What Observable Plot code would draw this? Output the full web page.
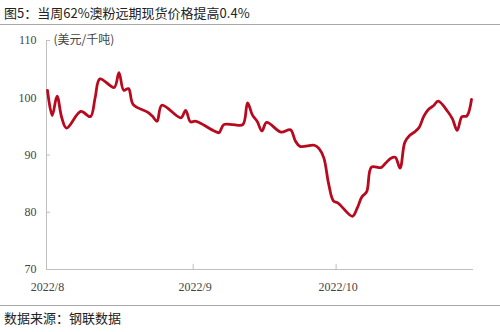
<!DOCTYPE html>
<html><head><meta charset="utf-8">
<script src="https://cdn.jsdelivr.net/npm/d3@7"></script>
<script src="https://cdn.jsdelivr.net/npm/@observablehq/plot@0.6"></script>
<style>
body{margin:0;background:#fff;width:500px;height:332px;overflow:hidden;}
#title{font-family:"Noto Sans CJK SC",sans-serif;font-size:13px;color:#222;height:25px;line-height:26px;padding-left:4px;border-bottom:1px solid #a8a8a8;box-sizing:border-box;white-space:nowrap;}
#foot{font-family:"Noto Sans CJK SC",sans-serif;font-size:13px;color:#222;border-top:1px solid #a8a8a8;padding-left:4px;line-height:24px;white-space:nowrap;}
#chart svg{display:block;}
</style></head>
<body>
<div id="title">图5：当周62%澳粉远期现货价格提高0.4%</div>
<div id="chart"></div>
<div id="foot">数据来源：钢联数据</div>
<script>
const dates = [
"2022-08-01","2022-08-02","2022-08-03","2022-08-04","2022-08-05","2022-08-08","2022-08-10","2022-08-11","2022-08-12",
"2022-08-15","2022-08-16","2022-08-17","2022-08-18","2022-08-19","2022-08-22","2022-08-23","2022-08-24","2022-08-25",
"2022-08-29","2022-08-30","2022-08-31","2022-09-01","2022-09-02","2022-09-05","2022-09-06","2022-09-07","2022-09-09",
"2022-09-11","2022-09-12","2022-09-13","2022-09-14","2022-09-15","2022-09-16","2022-09-19","2022-09-21","2022-09-22",
"2022-09-23","2022-09-26","2022-09-27","2022-09-28","2022-09-29","2022-09-30","2022-10-01","2022-10-04","2022-10-05",
"2022-10-06","2022-10-07","2022-10-08","2022-10-10","2022-10-11","2022-10-12","2022-10-13","2022-10-14","2022-10-15",
"2022-10-16","2022-10-17","2022-10-18","2022-10-19","2022-10-20","2022-10-21","2022-10-22","2022-10-24","2022-10-25",
"2022-10-26","2022-10-27","2022-10-28","2022-10-29"];
const prices = [
101.3,96.9,100.3,96.5,94.7,97.6,96.7,100.0,103.3,
101.8,104.4,101.3,101.6,98.8,97.5,96.8,95.9,98.7,
96.5,97.8,95.8,95.9,95.6,94.2,93.9,95.3,95.3,
95.3,99.1,97.0,95.9,94.2,95.7,94.0,94.4,92.5,
91.5,91.7,91.1,89.5,85.0,82.0,81.6,79.3,80.7,
82.7,83.6,87.9,87.8,88.6,89.4,89.6,87.7,92.2,
93.4,94.0,94.8,96.8,98.0,98.6,99.4,97.6,96.3,
94.3,96.7,96.8,99.7];
const yTicks = [70,80,90,100,110];
const xTickDates = ["2022-08-01","2022-09-01","2022-10-01"];
const xTickLabels = ["2022/8","2022/9","2022/10"];
const unitLabel = "(美元/千吨)";

const data = dates.map((d,i)=>({date:new Date(d+"T00:00"), value:prices[i]}));
const xTicks = xTickDates.map(d=>new Date(d+"T00:00"));
const x0 = new Date("2022-07-31T19:00");
const x1 = new Date("2022-10-29T10:00");
const xTickEnd = new Date(x0.getTime() + 0.85*864e5);
const lineColor = "#B80A1E";
const axisColor = "#bfbfbf";

const chart = Plot.plot({
  width:500, height:280,
  marginTop:15, marginBottom:36, marginLeft:46, marginRight:27,
  style:{fontFamily:"'Liberation Serif','Times New Roman',serif", fontSize:"12px", color:"#333", background:"#fff"},
  x:{type:"time", domain:[x0, x1], label:null},
  y:{domain:[70,110], label:null},
  marks:[
    Plot.ruleX([x0],{y1:70, y2:110, stroke:axisColor}),
    Plot.ruleY([70],{stroke:axisColor}),
    Plot.ruleY(yTicks,{x1:x0, x2:xTickEnd, stroke:axisColor}),
    Plot.axisY({ticks:yTicks, tickSize:0, tickPadding:10, fill:"#444"}),
    Plot.axisX({ticks:xTicks, tickFormat:(d,i)=>xTickLabels[i], tickSize:0, tickPadding:13, fill:"#444"}),
    Plot.ruleX(xTicks.slice(1),{y1:70, y2:70.9, stroke:axisColor, dx:-2}),
    Plot.line(data,{x:"date", y:"value", stroke:lineColor, strokeWidth:2.8, curve:"catmull-rom"}),
    Plot.text([unitLabel],{frameAnchor:"top-left", dx:7, dy:0, lineAnchor:"middle", text:d=>d, fontFamily:"'Noto Sans CJK SC',sans-serif", fontSize:12, letterSpacing:"0.5px", fill:"#444"})
  ]
});
document.getElementById("chart").appendChild(chart);
</script>
</body></html>
